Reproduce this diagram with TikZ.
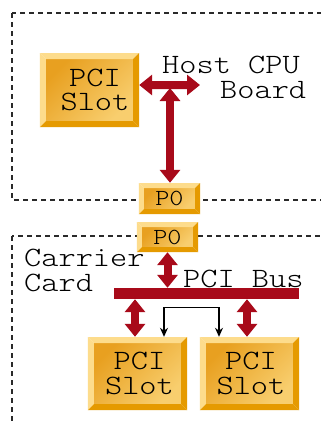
\documentclass[tikz,border=0pt]{standalone}
\usepackage{fontspec}
\newfontfamily\courfont[FakeStretch=1.17]{lmmonolt10-regular.otf}
\usetikzlibrary{arrows.meta,calc}
\definecolor{arrowred}{HTML}{A80A1A}
\definecolor{bevlight}{HTML}{FDDC8C}
\definecolor{bevdark}{HTML}{E59A00}
\definecolor{faceA}{HTML}{E8A020}
\definecolor{faceB}{HTML}{F8CE6E}
\definecolor{dashcol}{HTML}{2A2A2A}
\newcommand\bigfont{\courfont\fontsize{28bp}{24.5bp}\selectfont}
\newcommand\smallfont{\courfont\fontsize{23bp}{23bp}\selectfont}
\newlength\bevw
\setlength\bevw{6bp}
\tikzset{
  bevbox/.style={rectangle, inner sep=0pt, align=center,
    path picture={
      \path (path picture bounding box.north west) coordinate (bbnw)
            (path picture bounding box.north east) coordinate (bbne)
            (path picture bounding box.south east) coordinate (bbse)
            (path picture bounding box.south west) coordinate (bbsw);
      \shade[top color=faceA, bottom color=faceB, shading angle=45]
        ([xshift=\bevw,yshift=-\bevw]bbnw) rectangle ([xshift=-\bevw,yshift=\bevw]bbse);
      \fill[bevlight] (bbnw) -- (bbne) -- ([xshift=-\bevw,yshift=-\bevw]bbne) -- ([xshift=\bevw,yshift=-\bevw]bbnw) -- cycle;
      \fill[bevlight] (bbnw) -- ([xshift=\bevw,yshift=-\bevw]bbnw) -- ([xshift=\bevw,yshift=\bevw]bbsw) -- (bbsw) -- cycle;
      \fill[bevdark] (bbne) -- (bbse) -- ([xshift=-\bevw,yshift=\bevw]bbse) -- ([xshift=-\bevw,yshift=-\bevw]bbne) -- cycle;
      \fill[bevdark] (bbsw) -- (bbse) -- ([xshift=-\bevw,yshift=\bevw]bbse) -- ([xshift=\bevw,yshift=\bevw]bbsw) -- cycle;
    }},
  slotbox/.style={bevbox, minimum width=99bp, minimum height=74bp},
  pzbox/.style={bevbox, minimum width=61bp, minimum height=31bp, font=\smallfont,
    /utils/exec={\setlength\bevw{5bp}}},
  slottext/.style={font=\bigfont, align=center, inner sep=0pt},
  bigarr/.style={arrowred, line width=8bp,
    {Triangle[width=20bp,length=13bp]}-{Triangle[width=20bp,length=13bp]}},
  blkarr/.style={black, line width=1.3bp,
    {Stealth[width=8bp,length=9bp]}-{Stealth[width=8bp,length=9bp]}},
  dashline/.style={dashcol, line width=1.2bp, dash pattern=on 5bp off 4bp},
  plain/.style={font=\bigfont, inner sep=0pt}
}
\begin{document}
\begin{tikzpicture}[x=1bp, y=-1bp]
\useasboundingbox (0,0) rectangle (321,421);
\clip (0,0) rectangle (321,421);
\fill[white] (0,0) rectangle (321,421);
% dashed board outlines
\draw[dashline] (12,13) rectangle (340,200);
\draw[dashline] (12,236) rectangle (340,440);
% boxes
\node[slotbox] (s1) at (89.5,90) {};
\node[slottext] (s1t) at (95,90) {PCI\\Slot};
\node[pzbox] (p0a) at (169.5,198.5) {P0};
\node[pzbox, minimum height=30bp] (p0b) at (167.5,237) {P0};
\node[slotbox, minimum height=73bp] (s2) at (137.5,373.5) {};
\node[slottext] (s2t) at (139.5,373.5) {PCI\\Slot};
\node[slotbox, minimum height=73bp] (s3) at (249.5,373.5) {};
\node[slottext] (s3t) at (251,373.5) {PCI\\Slot};
% bus
\node[fill=arrowred, minimum width=185bp, minimum height=11bp, inner sep=0pt] (bus) at (206.5,293.5) {};
% texts
\node[plain, align=left, anchor=base west] (host) at (162,98) {Host CPU\\\hspace*{58bp}Board};
\node[plain, align=left, anchor=base west] (carrier) at (24,291) {Carrier\\Card};
\node[plain, anchor=base west] (busl) at (183,287) {PCI Bus};
% arrows
\coordinate (hend) at (200,85);
\coordinate (hj) at (170,88);
\draw[bigarr] ([yshift=5bp]s1.east) -- (hend);
\draw[bigarr] (hj) -- (hj |- p0a.north);
\draw[bigarr] (p0b.south) -- (p0b.south |- bus.north);
\draw[bigarr] ([xshift=-2.5bp]s2.north |- bus.south) -- ([xshift=-2.5bp]s2.north);
\draw[bigarr] ([xshift=-2.5bp]s3.north |- bus.south) -- ([xshift=-2.5bp]s3.north);
\draw[blkarr] ([xshift=26.5bp]s2.north) -- ++(0,-29) -| ([xshift=-30.5bp]s3.north);
\end{tikzpicture}
\end{document}
